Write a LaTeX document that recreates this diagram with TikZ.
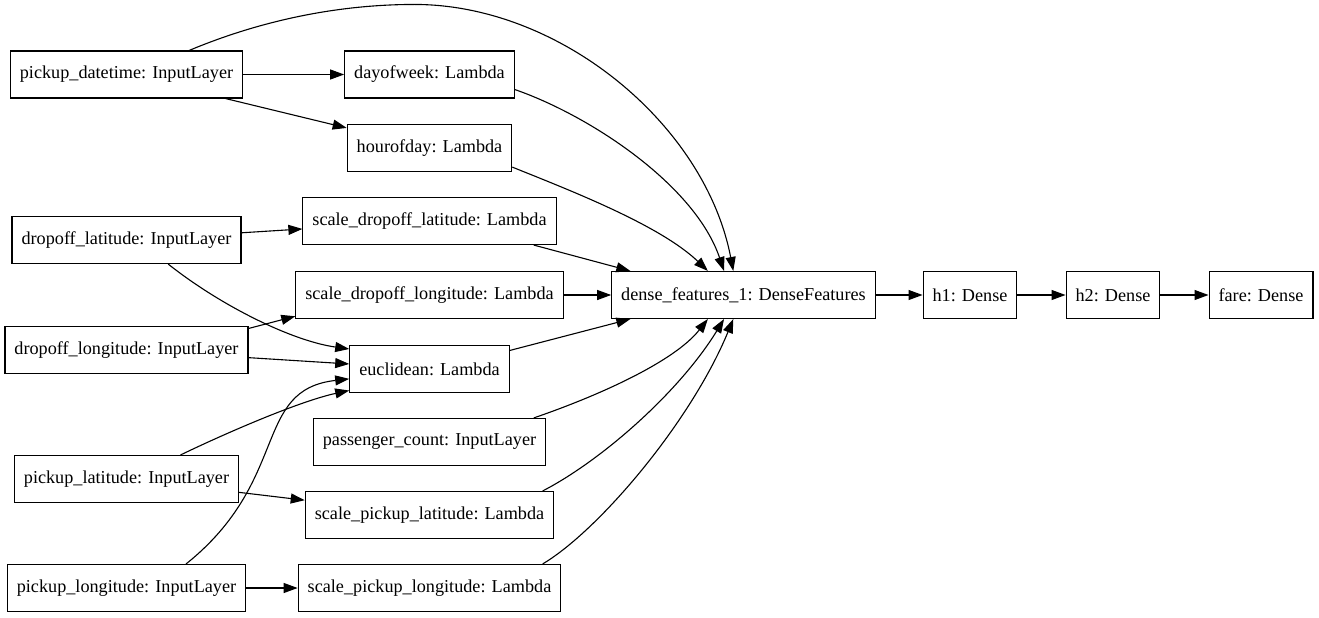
\documentclass[tikz,border=0pt]{standalone}
\usepackage{fontspec}
\setmainfont{Liberation Serif}
\usetikzlibrary{arrows.meta,positioning,calc}

\begin{document}
\begin{tikzpicture}[
    x=1pt, y=1pt,
    on grid,
    every node/.style={font=\fontsize{18.2}{22}\selectfont},
    layer/.style={rectangle, draw, line width=1.1pt, fill=white, minimum height=47pt, inner xsep=9.5pt, text centered},
    arrow/.style={-{Triangle[length=14pt,width=10pt]}, line width=1.1pt}
]

\useasboundingbox (-126.5,74.5) rectangle (1192.5,-543.5);

% Input layers and Lambda layers
\node[layer] (datetime) {pickup\_datetime: InputLayer};
\node[layer, right=303pt of datetime] (dayofweek) {dayofweek: Lambda};
\node[layer, below=73.5pt of dayofweek] (hourofday) {hourofday: Lambda};
\node[layer, below=165.5pt of datetime] (droplat) {dropoff\_latitude: InputLayer};
\node[layer, below=73pt of hourofday] (scaledroplat) {scale\_dropoff\_latitude: Lambda};
\node[layer, below=74pt of scaledroplat] (scaledroplon) {scale\_dropoff\_longitude: Lambda};
\node[layer, below=110pt of droplat] (droplon) {dropoff\_longitude: InputLayer};
\node[layer, below=74pt of scaledroplon] (euclid) {euclidean: Lambda};
\node[layer, below=73pt of euclid] (passenger) {passenger\_count: InputLayer};
\node[layer, below=129pt of droplon] (picklat) {pickup\_latitude: InputLayer};
\node[layer, below=73pt of passenger] (scalepicklat) {scale\_pickup\_latitude: Lambda};
\node[layer, below=109pt of picklat] (picklon) {pickup\_longitude: InputLayer};
\node[layer, right=303pt of picklon] (scalepicklon) {scale\_pickup\_longitude: Lambda};

% Dense part
\node[layer, right=314pt of scaledroplon] (dense) {dense\_features\_1: DenseFeatures};
\node[layer, right=226.5pt of dense] (hone) {h1: Dense};
\node[layer, right=143pt of hone] (htwo) {h2: Dense};
\node[layer, right=148pt of htwo] (fare) {fare: Dense};

\coordinate (arc) at ($(dayofweek.north)+(-15,46)$);

% Arrows
\draw[arrow] (datetime) -- (dayofweek);
\draw[arrow] (datetime) -- (hourofday);
\draw[arrow] (datetime.21) .. controls +(74,31) and +(-74,0) .. (arc)
    .. controls +(146,0) and +(-28,146) .. (dense.113);
\draw[arrow] (dayofweek.-10) .. controls +(75,-26) and +(-29,86) .. (dense.129);
\draw[arrow] (hourofday.-13) .. controls +(57,-23) and +(-48,46) .. (dense.146);
\draw[arrow] (droplat) -- (scaledroplat);
\draw[arrow] (droplat.-30) .. controls +(53,-42) and +(-57,8) .. (euclid.166);
\draw[arrow] (scaledroplat.-13) -- (dense.168);
\draw[arrow] (scaledroplon) -- (dense);
\draw[arrow] (droplon.10) -- (scaledroplon.189);
\draw[arrow] (droplon) -- (euclid);
\draw[arrow] (euclid.13) -- (dense.192);
\draw[arrow] (passenger.13) .. controls +(67,23) and +(-33,-42) .. (dense.214);
\draw[arrow] (picklat.24) .. controls +(52,25) and +(-47,-10) .. (euclid.195);
\draw[arrow] (picklat) -- (scalepicklat);
\draw[arrow] (picklon.22) .. controls +(105,84) and +(-97,-11) .. (euclid.187);
\draw[arrow] (picklon) -- (scalepicklon);
\draw[arrow] (scalepicklat.12) .. controls +(60,31) and +(-44,-72) .. (dense.231);
\draw[arrow] (scalepicklon.12) .. controls +(57,34) and +(-42,-102) .. (dense.247);
\draw[arrow] (dense) -- (hone);
\draw[arrow] (hone) -- (htwo);
\draw[arrow] (htwo) -- (fare);

\end{tikzpicture}
\end{document}
